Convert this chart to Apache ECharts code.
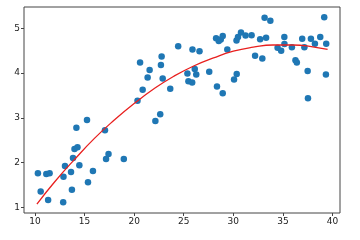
<!DOCTYPE html>
<html><head><meta charset="utf-8">
<script src="https://cdn.jsdelivr.net/npm/echarts@6/dist/echarts.min.js"></script>
<style>html,body{margin:0;padding:0;background:#fff}#c{width:360px;height:240px}</style>
</head><body><div id="c"></div>
<script>
const xTicks = [10, 15, 20, 25, 30, 35, 40];
const yTicks = [1, 2, 3, 4, 5];
const scatterX = [10.30,10.58,11.15,11.48,11.33,12.85,13.03,12.88,13.64,13.73,13.84,13.99,14.29,14.18,14.48,15.25,15.35,15.85,17.06,17.17,17.42,18.96,20.34,20.86,20.60,21.56,21.36,22.77,22.70,22.88,22.14,22.63,23.64,24.44,25.37,25.47,25.85,25.88,26.59,26.11,26.26,27.57,28.26,28.53,28.73,28.93,28.35,28.93,29.39,30.07,30.34,30.32,30.47,30.77,31.23,31.84,32.19,32.92,32.70,33.30,33.15,33.73,34.46,34.82,35.14,35.15,35.90,36.26,36.40,36.94,37.16,37.49,37.52,37.82,38.22,38.76,39.16,39.36,39.33];
const scatterY = [1.76,1.35,1.74,1.76,1.16,1.11,1.92,1.68,1.79,1.39,2.10,2.30,2.34,2.78,1.94,2.95,1.56,1.81,2.72,2.08,2.19,2.08,3.38,3.63,4.24,4.07,3.90,4.37,4.18,3.88,2.93,3.08,3.65,4.60,3.99,3.82,3.79,4.53,4.49,4.09,3.97,4.03,4.78,4.72,4.75,4.83,3.70,3.55,4.53,3.86,3.98,4.73,4.81,4.91,4.84,4.85,4.39,4.33,4.76,4.79,5.24,5.17,4.57,4.50,4.81,4.65,4.58,4.29,4.24,4.77,4.58,4.05,3.44,4.77,4.66,4.81,5.25,4.66,3.97];
const fitX = [10.2,12,14,16,18,20,22,24,26,28,30,32,34,36,38,39.5];
const fitY = [1.07,1.57,2.07,2.54,2.95,3.32,3.65,3.93,4.16,4.34,4.49,4.58,4.63,4.63,4.59,4.53];

const pts = scatterX.map((x,i)=>[x, scatterY[i]]);
const line = fitX.map((x,i)=>[x, fitY[i]]);
const lab = {fontFamily:'DejaVu Sans', fontSize:9, color:'#222', margin:4};
const chart = echarts.init(document.getElementById('c'));
chart.setOption({
  animation:false,
  grid:{left:24, right:20, top:7, bottom:27, show:true, borderColor:'#444', borderWidth:1, backgroundColor:'#fff'},
  xAxis:{type:'value', min:8.9, max:40.75,
    axisLine:{show:false}, splitLine:{show:false},
    axisTick:{show:true, length:3, lineStyle:{color:'#444'}, customValues:xTicks},
    axisLabel:Object.assign({customValues:xTicks}, lab)},
  yAxis:{type:'value', min:0.87, max:5.48,
    axisLine:{show:false}, splitLine:{show:false},
    axisTick:{show:true, length:3, lineStyle:{color:'#444'}, customValues:yTicks},
    axisLabel:Object.assign({customValues:yTicks}, lab)},
  series:[
    {type:'scatter', data:pts, symbolSize:6.5, itemStyle:{color:'#1f77b4', opacity:1}, z:2},
    {type:'line', data:line, smooth:true, showSymbol:false, lineStyle:{color:'#e8201f', width:1.3}, z:3}
  ]
});
</script></body></html>
